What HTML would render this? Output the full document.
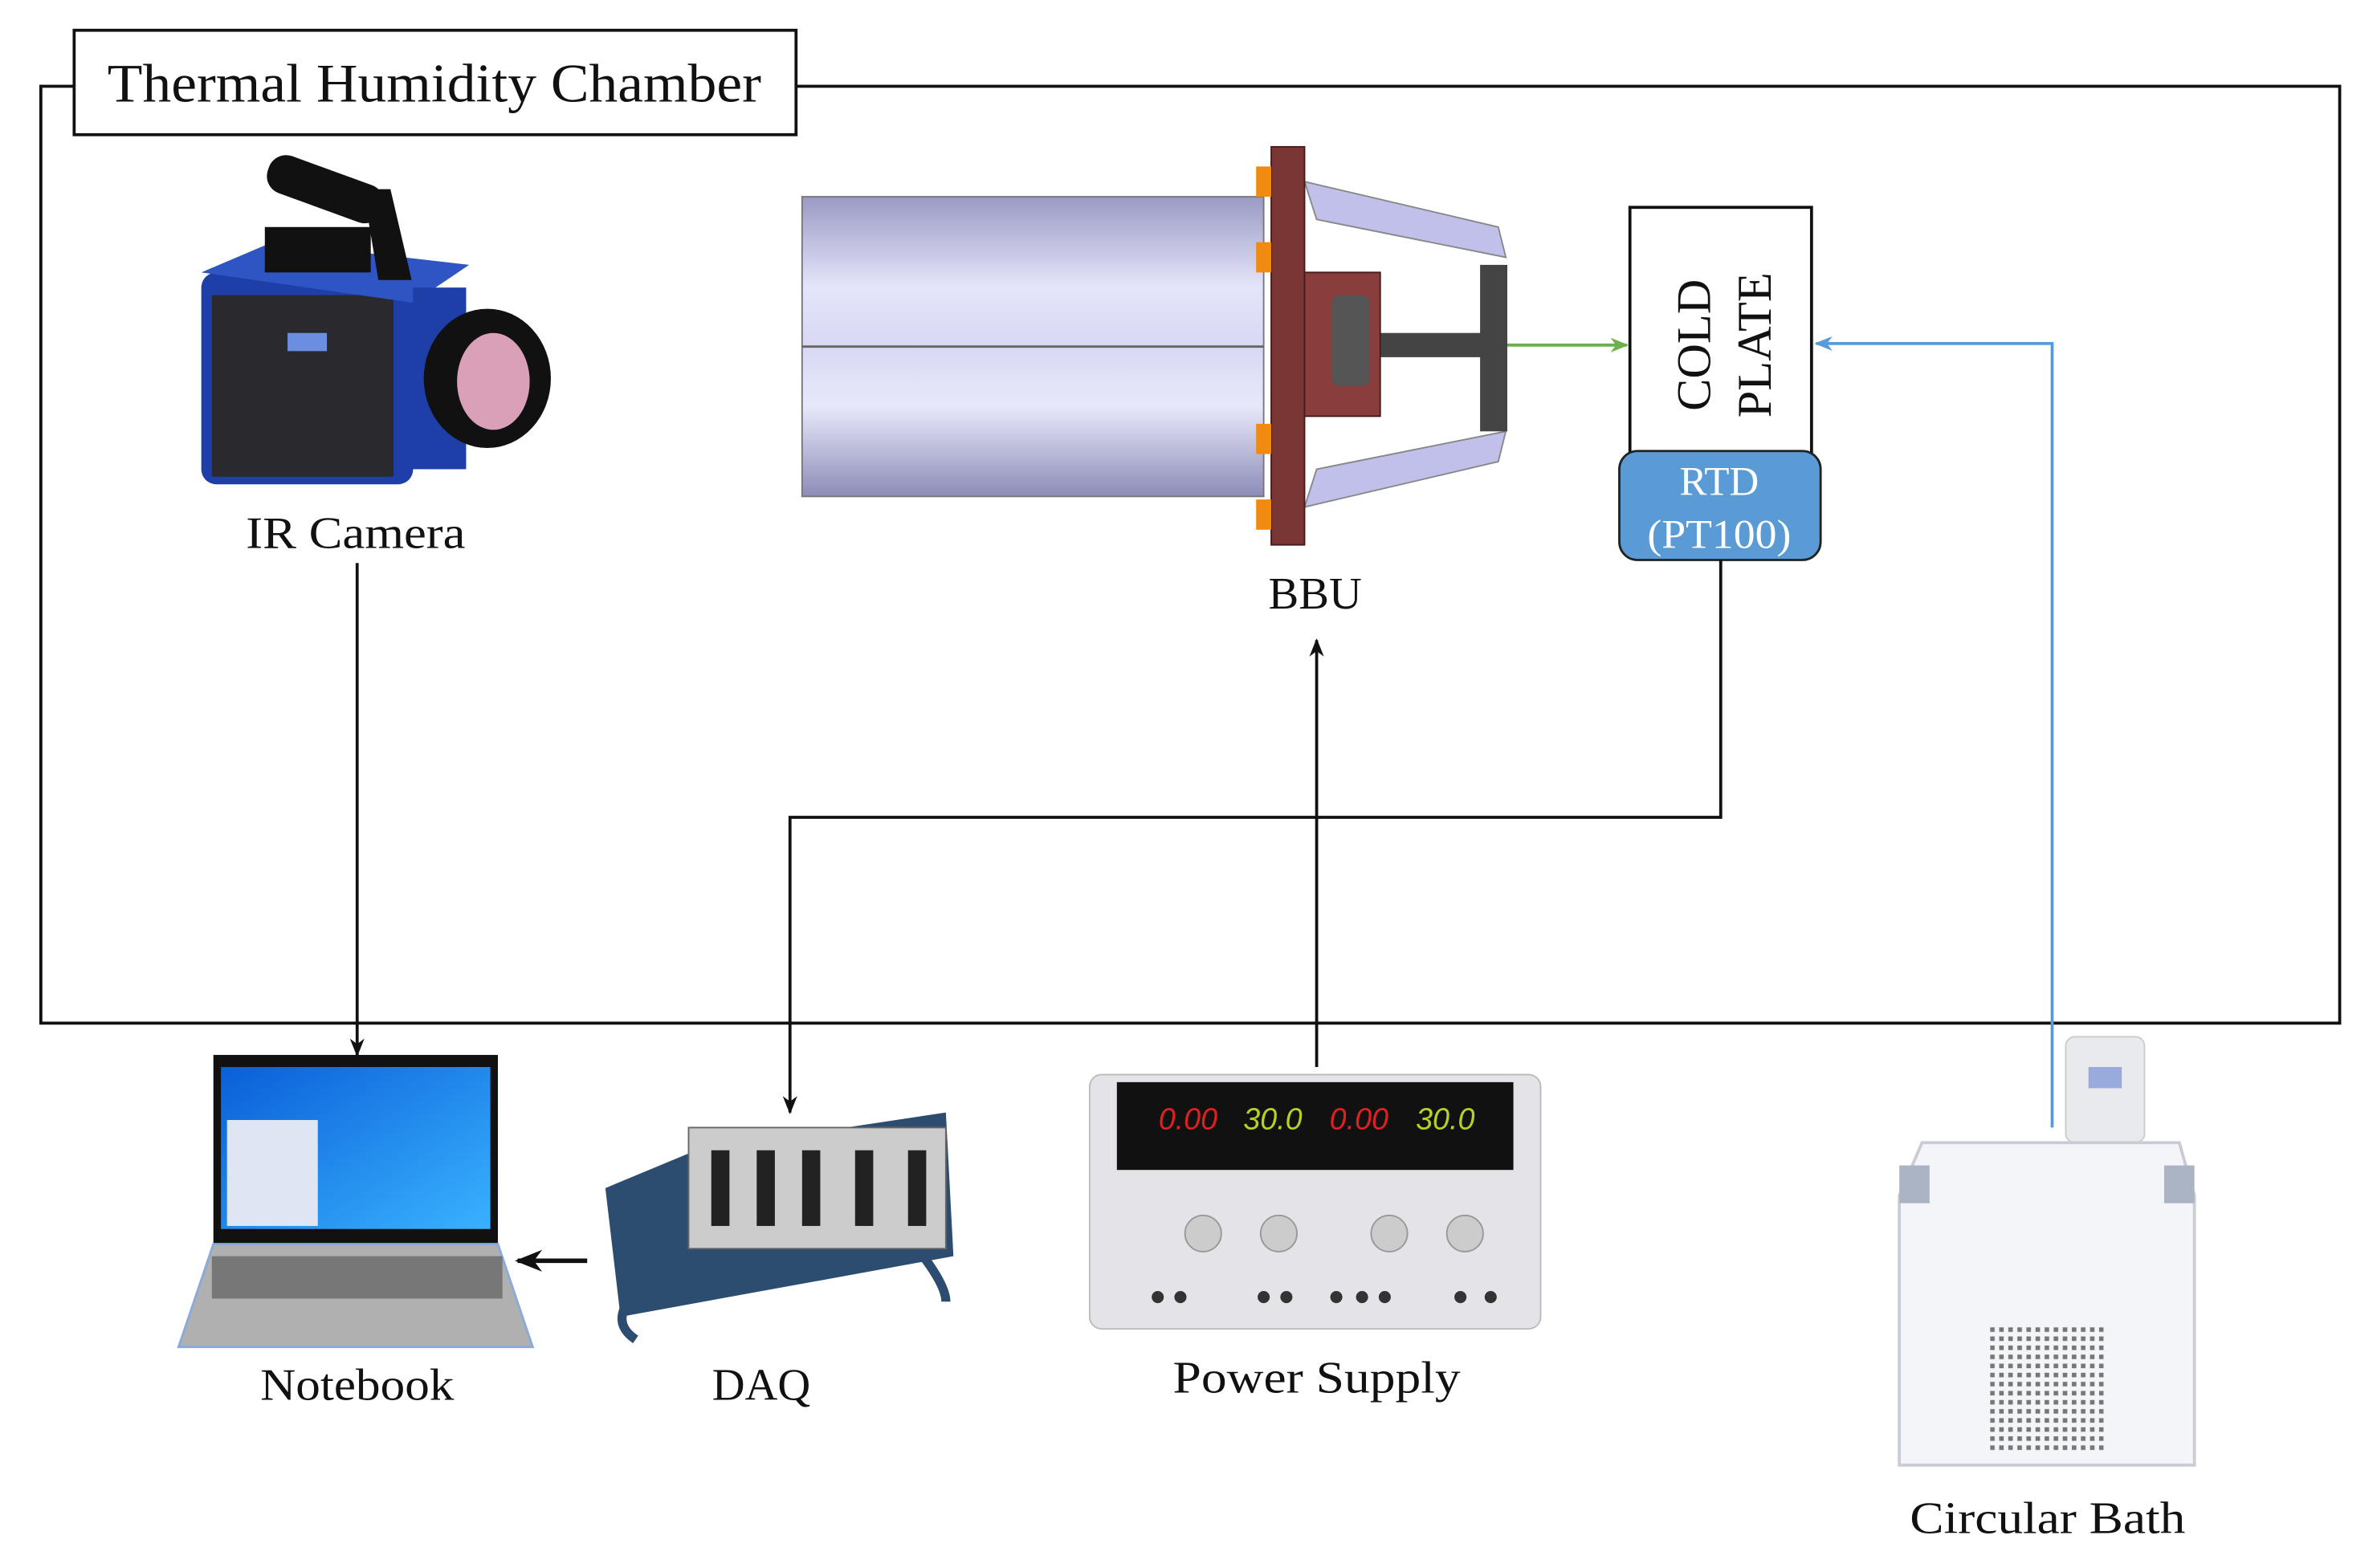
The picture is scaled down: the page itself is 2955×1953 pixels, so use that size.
<!DOCTYPE html>
<html><head><meta charset="utf-8"><style>html,body{margin:0;padding:0;background:#fff}svg{display:block}</style></head>
<body>
<svg width="2955" height="1953" viewBox="0 0 1568 1036" preserveAspectRatio="none" xmlns="http://www.w3.org/2000/svg" font-family="Liberation Serif, serif">
<defs>
<linearGradient id="cyl" x1="0" y1="0" x2="0" y2="1"><stop offset="0" stop-color="#9a9ac4"/><stop offset="0.3" stop-color="#e4e4fa"/><stop offset="0.5" stop-color="#d8d8f4"/><stop offset="0.7" stop-color="#e8e8fb"/><stop offset="1" stop-color="#8c8cb8"/></linearGradient>
<linearGradient id="scr" x1="0" y1="0" x2="1" y2="1"><stop offset="0" stop-color="#0a5fd8"/><stop offset="1" stop-color="#39b2ff"/></linearGradient>
<pattern id="vent" width="6" height="6" patternUnits="userSpaceOnUse"><rect width="6" height="6" fill="#f4f5f8"/><rect x="1" y="1" width="3" height="3" fill="#777"/></pattern>
<marker id="ak" viewBox="0 0 10 10" refX="9" refY="5" markerWidth="6" markerHeight="6" orient="auto"><path d="M0,1 L10,5 L0,9 L3,5z" fill="#111"/></marker>
<marker id="ab" viewBox="0 0 10 10" refX="9" refY="5" markerWidth="6" markerHeight="6" orient="auto"><path d="M0,1 L10,5 L0,9 L3,5z" fill="#5b9bd5"/></marker>
<marker id="ag" viewBox="0 0 10 10" refX="9" refY="5" markerWidth="6" markerHeight="6" orient="auto"><path d="M0,1 L10,5 L0,9 L3,5z" fill="#6ab04c"/></marker>
</defs>
<rect x="27" y="57" width="1519" height="619" fill="none" stroke="#111" stroke-width="2"/>
<rect x="49" y="20" width="477" height="69" fill="#fff" stroke="#111" stroke-width="2"/>
<text x="287" y="67" font-size="36" text-anchor="middle" fill="#111" textLength="432" lengthAdjust="spacingAndGlyphs">Thermal Humidity Chamber</text>
<!-- IR camera -->
<rect x="133" y="180" width="140" height="140" rx="10" fill="#1e3fa8"/>
<rect x="140" y="195" width="120" height="120" fill="#2a2a2e"/>
<polygon points="133,180 180,160 310,175 273,200" fill="#2f55c4"/>
<rect x="175" y="150" width="70" height="30" fill="#111"/>
<polygon points="240,125 258,125 272,185 250,185" fill="#111"/>
<rect x="175" y="112" width="80" height="26" rx="12" fill="#111" transform="rotate(20 215 125)"/>
<rect x="273" y="190" width="35" height="120" fill="#1e3fa8"/>
<ellipse cx="322" cy="250" rx="42" ry="46" fill="#111"/>
<ellipse cx="326" cy="252" rx="24" ry="32" fill="#d9a0b8"/>
<rect x="190" y="220" width="26" height="12" fill="#6c8ee0"/>
<text x="235" y="362" font-size="30" text-anchor="middle" fill="#111" textLength="145" lengthAdjust="spacingAndGlyphs">IR Camera</text>
<!-- BBU -->
<rect x="530" y="130" width="305" height="198" fill="url(#cyl)" stroke="#777" stroke-width="1"/>
<line x1="530" y1="229" x2="835" y2="229" stroke="#666" stroke-width="1.5"/>
<polygon points="862,120 990,150 995,170 870,145" fill="#c0c0ea" stroke="#888"/>
<polygon points="862,335 990,305 995,285 870,310" fill="#c0c0ea" stroke="#888"/>
<rect x="978" y="175" width="18" height="110" fill="#444"/>
<rect x="912" y="220" width="70" height="16" fill="#444"/>
<rect x="840" y="97" width="22" height="263" fill="#7a3535" stroke="#4a1a1a"/>
<rect x="862" y="180" width="50" height="95" fill="#8a3d3d" stroke="#4a1a1a"/>
<rect x="880" y="195" width="25" height="60" rx="5" fill="#555"/>
<rect x="830" y="110" width="10" height="20" fill="#f08a10"/><rect x="830" y="160" width="10" height="20" fill="#f08a10"/>
<rect x="830" y="280" width="10" height="20" fill="#f08a10"/><rect x="830" y="330" width="10" height="20" fill="#f08a10"/>
<text x="869" y="402" font-size="30" text-anchor="middle" fill="#111">BBU</text>
<!-- cold plate -->
<rect x="1077" y="137" width="120" height="164" fill="#fff" stroke="#111" stroke-width="2"/>
<text transform="translate(1130,228) rotate(-90)" font-size="32" text-anchor="middle" fill="#111">COLD</text>
<text transform="translate(1170,228) rotate(-90)" font-size="32" text-anchor="middle" fill="#111">PLATE</text>
<rect x="1070" y="298" width="133" height="72" rx="12" fill="#5b9bd5" stroke="#222" stroke-width="1.5"/>
<text x="1136" y="327" font-size="27" text-anchor="middle" fill="#fff">RTD</text>
<text x="1136" y="362" font-size="27" text-anchor="middle" fill="#fff" textLength="95" lengthAdjust="spacingAndGlyphs">(PT100)</text>
<!-- connectors -->
<line x1="996" y1="228" x2="1075" y2="228" stroke="#6ab04c" stroke-width="2" marker-end="url(#ag)"/>
<polyline points="1356,745 1356,227 1200,227" fill="none" stroke="#5b9bd5" stroke-width="2" marker-end="url(#ab)"/>
<polyline points="1137,370 1137,540 522,540 522,735" fill="none" stroke="#111" stroke-width="2" marker-end="url(#ak)"/>
<line x1="870" y1="705" x2="870" y2="423" stroke="#111" stroke-width="2" marker-end="url(#ak)"/>
<line x1="236" y1="372" x2="236" y2="697" stroke="#111" stroke-width="2" marker-end="url(#ak)"/>
<line x1="388" y1="833" x2="342" y2="833" stroke="#111" stroke-width="3" marker-end="url(#ak)"/>
<!-- notebook -->
<rect x="141" y="697" width="188" height="125" fill="#111"/>
<rect x="146" y="705" width="178" height="107" fill="url(#scr)"/>
<rect x="150" y="740" width="60" height="70" fill="#dde6f2"/>
<polygon points="141,822 329,822 352,890 118,890" fill="#b0b0b0" stroke="#8ad" stroke-width="1.5"/>
<rect x="140" y="830" width="192" height="28" fill="#777"/>
<text x="236" y="925" font-size="30" text-anchor="middle" fill="#111" textLength="128" lengthAdjust="spacingAndGlyphs">Notebook</text>
<!-- DAQ -->
<polygon points="400,785 460,760 625,735 630,830 410,870" fill="#2d4d70"/>
<rect x="455" y="745" width="170" height="80" fill="#ccc" stroke="#666"/>
<rect x="470" y="760" width="12" height="50" fill="#222"/><rect x="500" y="760" width="12" height="50" fill="#222"/><rect x="530" y="760" width="12" height="50" fill="#222"/><rect x="565" y="760" width="12" height="50" fill="#222"/><rect x="600" y="760" width="12" height="50" fill="#222"/>
<path d="M415,860 q-10,15 5,25 M610,830 q15,20 15,30" stroke="#2d4d70" stroke-width="6" fill="none"/>
<text x="503" y="925" font-size="30" text-anchor="middle" fill="#111">DAQ</text>
<!-- power supply -->
<rect x="720" y="710" width="298" height="168" rx="8" fill="#e4e4e8" stroke="#bbb"/>
<rect x="738" y="715" width="262" height="58" fill="#111"/>
<text x="785" y="746" font-size="20" font-family="Liberation Sans, sans-serif" fill="#e02020" text-anchor="middle" font-style="italic">0.00</text>
<text x="841" y="746" font-size="20" font-family="Liberation Sans, sans-serif" fill="#b8d020" text-anchor="middle" font-style="italic">30.0</text>
<text x="898" y="746" font-size="20" font-family="Liberation Sans, sans-serif" fill="#e02020" text-anchor="middle" font-style="italic">0.00</text>
<text x="955" y="746" font-size="20" font-family="Liberation Sans, sans-serif" fill="#b8d020" text-anchor="middle" font-style="italic">30.0</text>
<circle cx="795" cy="815" r="12" fill="#ccc" stroke="#999"/><circle cx="845" cy="815" r="12" fill="#ccc" stroke="#999"/><circle cx="918" cy="815" r="12" fill="#ccc" stroke="#999"/><circle cx="968" cy="815" r="12" fill="#ccc" stroke="#999"/>
<g fill="#333"><circle cx="765" cy="857" r="4"/><circle cx="780" cy="857" r="4"/><circle cx="835" cy="857" r="4"/><circle cx="850" cy="857" r="4"/><circle cx="883" cy="857" r="4"/><circle cx="900" cy="857" r="4"/><circle cx="915" cy="857" r="4"/><circle cx="965" cy="857" r="4"/><circle cx="985" cy="857" r="4"/></g>
<text x="870" y="920" font-size="30" text-anchor="middle" fill="#111" textLength="190" lengthAdjust="spacingAndGlyphs">Power Supply</text>
<!-- circular bath -->
<rect x="1365" y="685" width="52" height="70" rx="6" fill="#e8eaee" stroke="#ccc"/>
<rect x="1380" y="705" width="22" height="14" fill="#9ad"/>
<path d="M1270,755 L1440,755 L1450,790 L1450,968 L1255,968 L1255,790 Z" fill="#f4f5f8" stroke="#c8ccd4" stroke-width="2"/>
<rect x="1255" y="770" width="20" height="25" fill="#aab4c4"/><rect x="1430" y="770" width="20" height="25" fill="#aab4c4"/>
<rect x="1315" y="875" width="75" height="85" fill="url(#vent)"/>
<text x="1353" y="1013" font-size="30" text-anchor="middle" fill="#111" textLength="182" lengthAdjust="spacingAndGlyphs">Circular Bath</text>
</svg>
</body></html>
